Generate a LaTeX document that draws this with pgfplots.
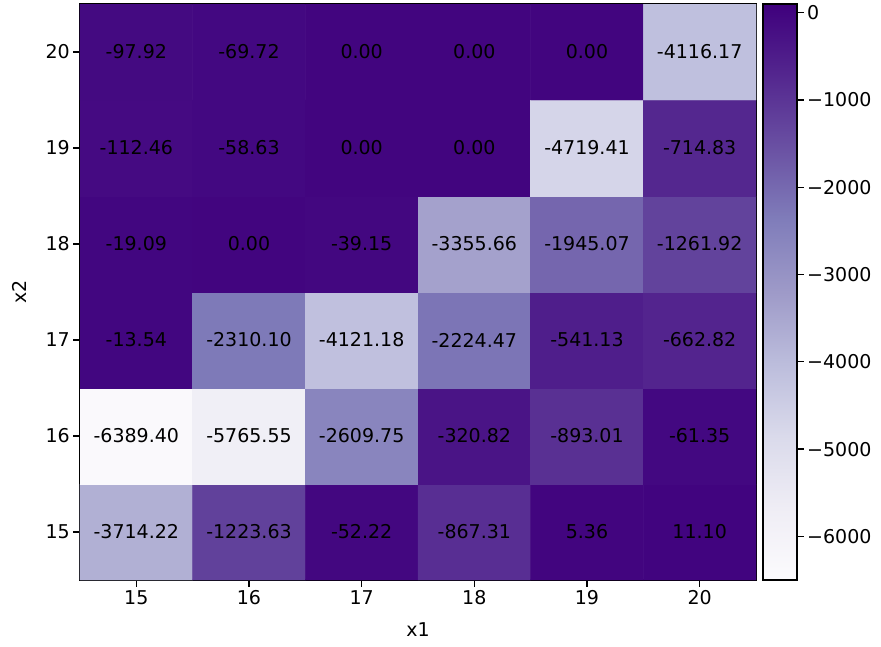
\documentclass[border=0pt]{standalone}
\usepackage{fontspec}
\setmainfont{DejaVu Sans}
\usepackage{pgfplots}
\usepackage{pgfplotstable}
\pgfplotsset{compat=1.18}

% grid values: x1, x2 and the objective value at each cell
\pgfplotstableread{
x y c
15 15 -3714.22
16 15 -1223.63
17 15 -52.22
18 15 -867.31
19 15 5.36
20 15 11.10
15 16 -6389.40
16 16 -5765.55
17 16 -2609.75
18 16 -320.82
19 16 -893.01
20 16 -61.35
15 17 -13.54
16 17 -2310.10
17 17 -4121.18
18 17 -2224.47
19 17 -541.13
20 17 -662.82
15 18 -19.09
16 18 0.00
17 18 -39.15
18 18 -3355.66
19 18 -1945.07
20 18 -1261.92
15 19 -112.46
16 19 -58.63
17 19 0.00
18 19 0.00
19 19 -4719.41
20 19 -714.83
15 20 -97.92
16 20 -69.72
17 20 0.00
18 20 0.00
19 20 0.00
20 20 -4116.17
}\heat

\begin{document}
\begin{tikzpicture}[font=\fontsize{19}{23}\selectfont]
\useasboundingbox (-80pt,-66pt) rectangle (801pt,580pt);
\begin{axis}[
  scale only axis,
  width=676pt, height=576pt,
  xmin=14.5, xmax=20.5, ymin=14.5, ymax=20.5,
  xtick={15,...,20}, ytick={15,...,20},
  xtick pos=left, ytick pos=left,
  tick align=outside,
  major tick length=6.7pt,
  every tick/.style={black, line width=1.3pt},
  axis line style={line width=1.3pt},
  /pgf/number format/assume math mode=true,
  xlabel={x1}, ylabel={x2},
  xlabel style={yshift=-11pt},
  ylabel style={yshift=12pt},
  colormap={purples}{rgb255=(252,251,253) rgb255=(239,237,245) rgb255=(218,218,235)
    rgb255=(188,189,220) rgb255=(158,154,200) rgb255=(128,125,186)
    rgb255=(106,81,163) rgb255=(84,39,143) rgb255=(63,0,125)},
  point meta min=-6500, point meta max=100,
  colorbar,
  colorbar/width=34pt,
  colorbar shift/.style={xshift=7pt},
  colorbar style={
    at={(parent axis.north east)}, anchor=north west,
    scale only axis, height=576pt,
    ytick={-6000,-5000,-4000,-3000,-2000,-1000,0},
    yticklabels={−6000,−5000,−4000,−3000,−2000,−1000,0},
    ytick pos=right, yticklabel pos=right,
    tick align=outside, major tick length=6.7pt,
    every tick/.style={black, line width=1.3pt},
    axis line style={line width=1.3pt},
  },
]
\addplot[matrix plot*, mesh/cols=6, point meta=explicit] table[meta=c] {\heat};
\addplot[only marks, mark=none, point meta=explicit,
  nodes near coords={\pgfmathprintnumber[fixed, fixed zerofill, precision=2, 1000 sep={}, assume math mode=true]{\pgfplotspointmeta}},
  nodes near coords align=center,
  every node near coord/.append style={text=black, anchor=center}]
  table[meta=c] {\heat};
\end{axis}
\end{tikzpicture}
\end{document}
